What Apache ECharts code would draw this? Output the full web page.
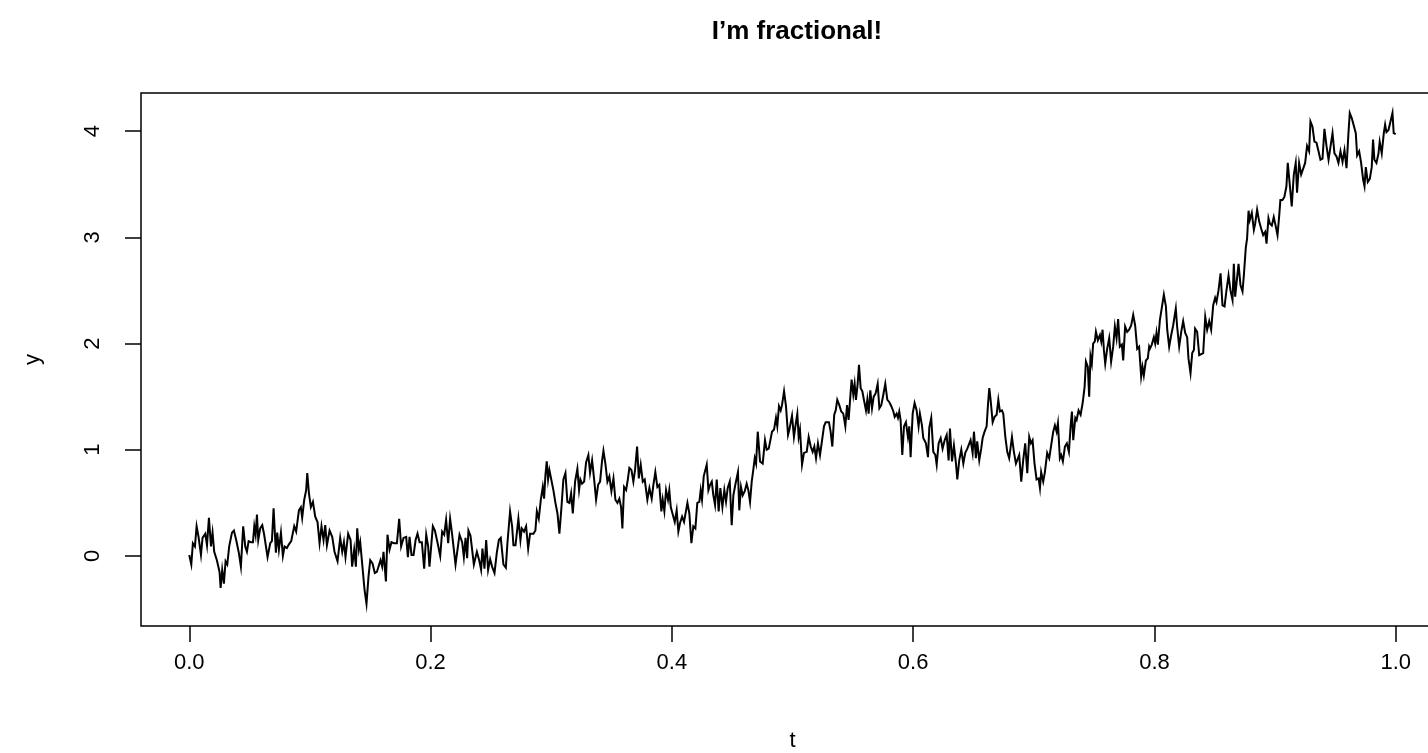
<!DOCTYPE html>
<html>
<head>
<meta charset="utf-8">
<script src="https://cdn.jsdelivr.net/npm/echarts@6/dist/echarts.min.js"></script>
<style>
html,body{margin:0;padding:0;background:#fff;}
#chart{width:1428px;height:753px;}
</style>
</head>
<body>
<div id="chart"></div>
<script>
const titleText = "I\u2019m fractional!";
const xName = "t";
const yName = "y";
const xTicks = [0, 0.2, 0.4, 0.6, 0.8, 1.0];
const yTicks = [0, 1, 2, 3, 4];

const tValues = [
0.0000,0.0017,0.0030,0.0047,0.0061,0.0077,0.0097,0.0110,0.0133,0.0147,0.0163,0.0180,0.0193,0.0207,0.0229,0.0251,0.0260,0.0273,0.0287,0.0301,
0.0315,0.0331,0.0354,0.0370,0.0389,0.0411,0.0428,0.0447,0.0464,0.0478,0.0492,0.0511,0.0528,0.0539,0.0550,0.0561,0.0572,0.0588,0.0605,0.0621,
0.0649,0.0671,0.0685,0.0699,0.0718,0.0729,0.0743,0.0760,0.0776,0.0790,0.0809,0.0826,0.0845,0.0870,0.0886,0.0909,0.0925,0.0936,0.0953,0.0969,
0.0978,0.0992,0.1008,0.1025,0.1044,0.1063,0.1080,0.1096,0.1113,0.1127,0.1141,0.1163,0.1185,0.1204,0.1229,0.1251,0.1268,0.1282,0.1295,0.1317,
0.1337,0.1350,0.1367,0.1381,0.1392,0.1406,0.1417,0.1433,0.1453,0.1469,0.1486,0.1500,0.1519,0.1538,0.1555,0.1571,0.1585,0.1599,0.1610,0.1630,
0.1643,0.1660,0.1676,0.1696,0.1721,0.1740,0.1756,0.1776,0.1798,0.1812,0.1826,0.1842,0.1859,0.1876,0.1892,0.1909,0.1928,0.1947,0.1964,0.1980,
0.1991,0.2019,0.2036,0.2057,0.2080,0.2096,0.2113,0.2129,0.2146,0.2162,0.2179,0.2207,0.2240,0.2262,0.2276,0.2290,0.2303,0.2314,0.2331,0.2359,
0.2384,0.2405,0.2419,0.2430,0.2447,0.2461,0.2477,0.2494,0.2510,0.2530,0.2549,0.2566,0.2582,0.2604,0.2624,0.2637,0.2659,0.2676,0.2687,0.2704,
0.2728,0.2745,0.2756,0.2775,0.2792,0.2809,0.2825,0.2853,0.2869,0.2881,0.2897,0.2914,0.2930,0.2941,0.2952,0.2963,0.2974,0.2985,0.2999,0.3018,
0.3035,0.3052,0.3068,0.3085,0.3101,0.3118,0.3134,0.3151,0.3165,0.3179,0.3198,0.3217,0.3231,0.3242,0.3256,0.3273,0.3289,0.3308,0.3322,0.3339,
0.3355,0.3372,0.3389,0.3405,0.3422,0.3433,0.3449,0.3466,0.3482,0.3499,0.3516,0.3532,0.3549,0.3565,0.3579,0.3590,0.3604,0.3621,0.3635,0.3648,
0.3665,0.3681,0.3695,0.3712,0.3726,0.3742,0.3759,0.3775,0.3797,0.3814,0.3833,0.3847,0.3863,0.3880,0.3896,0.3913,0.3924,0.3938,0.3952,0.3968,
0.3979,0.3991,0.4007,0.4024,0.4040,0.4054,0.4068,0.4085,0.4101,0.4129,0.4145,0.4162,0.4178,0.4195,0.4211,0.4228,0.4239,0.4250,0.4264,0.4278,
0.4289,0.4303,0.4317,0.4331,0.4344,0.4358,0.4372,0.4388,0.4402,0.4419,0.4435,0.4449,0.4463,0.4480,0.4496,0.4510,0.4526,0.4548,0.4559,0.4573,
0.4587,0.4604,0.4620,0.4634,0.4648,0.4662,0.4675,0.4687,0.4698,0.4712,0.4731,0.4753,0.4772,0.4786,0.4803,0.4814,0.4830,0.4847,0.4863,0.4874,
0.4888,0.4902,0.4913,0.4930,0.4946,0.4963,0.4974,0.4996,0.5012,0.5029,0.5040,0.5051,0.5062,0.5079,0.5095,0.5118,0.5134,0.5151,0.5167,0.5181,
0.5195,0.5211,0.5228,0.5244,0.5261,0.5275,0.5288,0.5302,0.5316,0.5330,0.5346,0.5358,0.5371,0.5388,0.5404,0.5421,0.5438,0.5452,0.5465,0.5476,
0.5490,0.5504,0.5515,0.5526,0.5540,0.5551,0.5565,0.5579,0.5592,0.5609,0.5620,0.5631,0.5645,0.5659,0.5673,0.5689,0.5706,0.5720,0.5736,0.5753,
0.5769,0.5786,0.5802,0.5819,0.5836,0.5847,0.5863,0.5874,0.5885,0.5896,0.5910,0.5924,0.5940,0.5957,0.5968,0.5979,0.5996,0.6012,0.6029,0.6045,
0.6056,0.6073,0.6084,0.6106,0.6123,0.6134,0.6150,0.6167,0.6184,0.6195,0.6211,0.6228,0.6244,0.6261,0.6278,0.6294,0.6305,0.6322,0.6338,0.6355,
0.6366,0.6382,0.6399,0.6416,0.6432,0.6449,0.6465,0.6476,0.6493,0.6504,0.6520,0.6531,0.6548,0.6564,0.6576,0.6592,0.6609,0.6620,0.6631,0.6642,
0.6659,0.6675,0.6692,0.6706,0.6719,0.6736,0.6747,0.6764,0.6780,0.6796,0.6819,0.6835,0.6852,0.6868,0.6879,0.6896,0.6912,0.6929,0.6946,0.6962,
0.6976,0.6990,0.7006,0.7023,0.7040,0.7051,0.7061,0.7078,0.7092,0.7111,0.7128,0.7144,0.7161,0.7175,0.7189,0.7200,0.7216,0.7227,0.7241,0.7258,
0.7274,0.7291,0.7305,0.7316,0.7327,0.7344,0.7355,0.7371,0.7388,0.7405,0.7421,0.7432,0.7448,0.7459,0.7470,0.7481,0.7492,0.7506,0.7515,0.7531,
0.7548,0.7559,0.7570,0.7581,0.7592,0.7608,0.7625,0.7641,0.7658,0.7672,0.7686,0.7699,0.7713,0.7730,0.7741,0.7757,0.7774,0.7790,0.7807,0.7824,
0.7840,0.7857,0.7873,0.7890,0.7901,0.7912,0.7929,0.7945,0.7956,0.7962,0.7978,0.7995,0.8006,0.8017,0.8028,0.8045,0.8061,0.8078,0.8095,0.8106,
0.8122,0.8139,0.8155,0.8177,0.8188,0.8205,0.8222,0.8238,0.8255,0.8271,0.8282,0.8299,0.8313,0.8327,0.8337,0.8354,0.8371,0.8387,0.8404,0.8421,
0.8437,0.8454,0.8470,0.8487,0.8503,0.8514,0.8531,0.8548,0.8564,0.8581,0.8597,0.8614,0.8630,0.8647,0.8658,0.8669,0.8686,0.8697,0.8713,0.8730,
0.8741,0.8757,0.8768,0.8780,0.8790,0.8807,0.8824,0.8835,0.8851,0.8868,0.8885,0.8901,0.8918,0.8929,0.8945,0.8956,0.8973,0.8989,0.9006,0.9020,
0.9033,0.9044,0.9061,0.9077,0.9094,0.9105,0.9122,0.9138,0.9155,0.9171,0.9182,0.9199,0.9216,0.9232,0.9249,0.9265,0.9282,0.9293,0.9310,0.9326,
0.9343,0.9360,0.9376,0.9393,0.9409,0.9426,0.9443,0.9459,0.9476,0.9492,0.9509,0.9525,0.9542,0.9559,0.9575,0.9592,0.9608,0.9619,0.9636,0.9652,
0.9669,0.9680,0.9697,0.9713,0.9730,0.9741,0.9752,0.9768,0.9785,0.9801,0.9812,0.9823,0.9840,0.9857,0.9867,0.9884,0.9901,0.9912,0.9923,0.9940,
0.9956,0.9973,0.9983,1.0000
];

const yValues = [
0.01,-0.08,0.12,0.09,0.28,0.18,0.01,0.17,0.21,0.10,0.36,0.09,0.22,0.04,-0.04,-0.15,-0.30,-0.13,-0.26,-0.05,
-0.08,0.09,0.22,0.24,0.15,0.03,-0.10,0.28,0.09,0.04,0.14,0.13,0.13,0.28,0.20,0.39,0.15,0.26,0.29,0.20,
-0.01,0.12,0.14,0.45,0.03,0.22,0.06,0.22,0.00,0.09,0.075,0.11,0.14,0.28,0.23,0.43,0.46,0.36,0.53,0.62,
0.78,0.59,0.46,0.51,0.37,0.32,0.12,0.28,0.15,0.29,0.10,0.24,0.18,0.04,-0.05,0.17,0.04,0.13,-0.01,0.21,
0.15,-0.10,0.06,-0.10,0.26,0.06,0.13,-0.07,-0.32,-0.45,-0.19,-0.04,-0.07,-0.16,-0.15,-0.15,-0.04,-0.10,0.04,-0.24,
0.20,0.06,0.13,0.12,0.12,0.35,0.09,0.17,0.18,-0.01,0.18,0.01,0.01,0.15,0.21,0.13,0.13,-0.12,0.20,0.09,
-0.10,0.28,0.24,0.13,0.00,0.23,0.20,0.34,0.12,0.35,0.20,-0.08,0.20,0.13,-0.01,0.17,-0.02,0.24,0.19,-0.08,
0.04,-0.05,-0.13,0.07,-0.12,0.15,-0.13,-0.03,-0.10,-0.16,0.03,0.15,0.17,-0.08,-0.11,0.12,0.42,0.28,0.10,0.10,
0.35,0.15,0.26,0.23,0.28,0.07,0.21,0.21,0.24,0.42,0.35,0.53,0.65,0.54,0.76,0.89,0.72,0.81,0.80,0.62,
0.50,0.40,0.21,0.46,0.72,0.78,0.51,0.50,0.59,0.40,0.70,0.82,0.62,0.72,0.68,0.70,0.88,0.95,0.78,0.90,
0.73,0.53,0.67,0.70,0.90,0.99,0.87,0.70,0.75,0.61,0.73,0.53,0.50,0.54,0.46,0.26,0.65,0.62,0.72,0.83,
0.81,0.70,0.81,1.03,0.73,0.86,0.70,0.72,0.53,0.64,0.54,0.67,0.79,0.65,0.67,0.42,0.53,0.42,0.62,0.53,
0.62,0.46,0.46,0.32,0.43,0.23,0.31,0.37,0.32,0.50,0.40,0.12,0.28,0.26,0.50,0.51,0.62,0.53,0.75,0.76,
0.86,0.62,0.67,0.70,0.57,0.48,0.72,0.42,0.64,0.46,0.62,0.51,0.64,0.70,0.29,0.57,0.67,0.79,0.43,0.65,
0.57,0.61,0.68,0.62,0.51,0.70,0.81,0.92,0.87,1.17,0.89,0.87,1.09,1.00,1.01,1.00,1.17,1.19,1.30,1.22,
1.41,1.37,1.42,1.55,1.41,1.14,1.19,1.32,1.12,1.26,1.34,1.12,1.19,0.86,0.97,0.98,1.12,1.03,0.98,1.03,
0.92,1.06,0.95,1.08,1.22,1.26,1.25,1.26,1.17,1.03,1.33,1.37,1.47,1.42,1.36,1.34,1.22,1.42,1.28,1.45,
1.66,1.52,1.62,1.47,1.62,1.80,1.58,1.55,1.47,1.37,1.47,1.34,1.56,1.39,1.50,1.53,1.62,1.39,1.42,1.52,
1.62,1.47,1.45,1.41,1.36,1.31,1.34,1.30,1.36,1.28,0.95,1.22,1.26,1.12,1.22,0.93,1.34,1.44,1.37,1.22,
1.34,1.23,1.11,1.06,0.93,1.21,1.30,0.98,0.95,0.86,1.06,1.11,1.01,1.09,1.14,0.90,1.20,0.89,1.04,0.87,
0.72,0.90,1.00,0.87,0.97,1.01,1.00,1.09,0.97,1.17,0.92,1.08,0.90,1.01,1.11,1.17,1.22,1.42,1.58,1.47,
1.26,1.31,1.33,1.47,1.36,1.37,1.34,1.12,0.98,0.92,1.12,0.98,0.87,0.87,0.95,0.70,0.90,1.06,0.78,1.12,
1.06,1.09,0.87,0.72,0.73,0.64,0.79,0.70,0.79,0.97,0.92,0.92,1.17,1.23,1.17,1.25,0.92,0.95,0.89,1.03,
1.06,0.98,1.22,1.36,1.09,1.30,1.28,1.37,1.33,1.44,1.59,1.83,1.78,1.50,1.88,1.81,2.00,2.02,2.11,2.03,
2.08,2.02,2.13,1.94,1.81,1.95,2.05,1.83,1.97,2.16,2.05,2.23,1.97,1.99,1.84,2.16,2.11,2.13,2.17,2.27,
2.17,1.95,1.97,1.69,1.78,1.70,1.84,1.86,1.97,1.95,1.99,2.06,2.00,2.10,1.99,2.22,2.21,2.46,2.35,2.13,
1.97,2.08,2.17,2.33,2.16,1.97,2.11,2.21,2.10,2.06,1.86,1.72,1.91,1.94,2.14,2.11,1.89,1.88,1.91,2.25,
2.13,2.21,2.13,2.36,2.43,2.39,2.50,2.66,2.36,2.35,2.50,2.64,2.50,2.41,2.75,2.44,2.63,2.75,2.55,2.49,
2.64,2.90,2.99,3.25,3.16,3.23,3.07,3.13,3.26,3.15,3.08,3.02,3.05,2.94,3.18,3.13,3.11,3.19,3.10,3.02,
3.19,3.35,3.35,3.38,3.48,3.70,3.49,3.29,3.59,3.70,3.42,3.70,3.59,3.60,3.70,3.86,3.81,4.09,4.04,3.90,
3.89,3.81,3.73,3.74,4.02,3.86,3.73,3.72,3.98,3.79,3.76,3.70,3.81,3.71,3.82,3.65,3.98,4.17,4.12,4.12,
3.98,3.77,3.81,3.70,3.54,3.48,3.66,3.52,3.55,3.66,3.92,3.73,3.70,3.79,3.90,3.79,3.98,4.06,3.99,4.01,
4.02,4.17,3.98,3.97
];

const seriesData = tValues.map((t, i) => [t, yValues[i]]);
const FONT = '"Liberation Sans", Arial, Helvetica, sans-serif';

const chart = echarts.init(document.getElementById('chart'), null, {renderer: 'canvas'});
chart.setOption({
  animation: false,
  backgroundColor: '#ffffff',
  title: {
    text: titleText,
    left: 792,
    top: 14,
    textAlign: 'center',
    textStyle: {fontFamily: FONT, fontWeight: 'bold', fontSize: 26, color: '#000'}
  },
  grid: {
    left: 141, top: 93, width: 1303, height: 533,
    outerBoundsMode: 'none',
    containLabel: false,
    show: true, borderColor: '#000', borderWidth: 1.5, backgroundColor: 'transparent'
  },
  xAxis: {
    type: 'value', min: -0.04, max: 1.04,
    name: xName, nameLocation: 'middle', nameGap: 104,
    nameTextStyle: {fontFamily: FONT, fontSize: 22, color: '#000'},
    axisLine: {show: false, onZero: false},
    splitLine: {show: false},
    axisTick: {show: true, length: 16, inside: false, customValues: xTicks, lineStyle: {color: '#000', width: 1.5}},
    axisLabel: {customValues: xTicks, margin: 26, fontFamily: FONT, fontSize: 22, color: '#000',
      formatter: v => Number(v).toFixed(1)}
  },
  yAxis: {
    type: 'value', min: -0.659, max: 4.358,
    name: yName, nameLocation: 'middle', nameGap: 97,
    nameTextStyle: {fontFamily: FONT, fontSize: 22, color: '#000'},
    axisLine: {show: false, onZero: false},
    splitLine: {show: false},
    axisTick: {show: true, length: 16, inside: false, customValues: yTicks, lineStyle: {color: '#000', width: 1.5}},
    axisLabel: {customValues: yTicks, rotate: 90, margin: 37, fontFamily: FONT, fontSize: 22, color: '#000',
      formatter: v => String(Math.round(v))}
  },
  series: [{
    type: 'line',
    data: seriesData,
    showSymbol: false,
    symbol: 'none',
    clip: true,
    lineStyle: {color: '#000', width: 2, join: 'miter'},
    silent: true
  }]
});
</script>
</body>
</html>
